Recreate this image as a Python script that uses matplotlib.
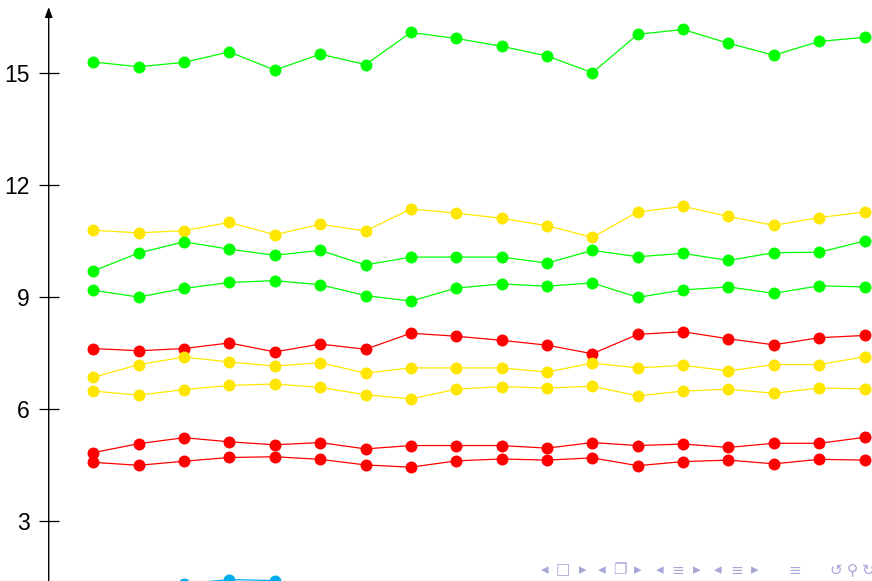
import numpy as np
import matplotlib.pyplot as plt

# values (18 samples per series)
x = np.arange(18)

green_top = [15.30, 15.17, 15.29, 15.57, 15.08, 15.51, 15.23, 16.09, 15.93, 15.72,
             15.46, 15.01, 16.04, 16.17, 15.80, 15.48, 15.85, 15.96]
yellow_top = [10.79, 10.72, 10.78, 11.00, 10.67, 10.95, 10.77, 11.36, 11.25, 11.11,
              10.91, 10.60, 11.28, 11.43, 11.16, 10.92, 11.13, 11.28]
green_mid = [9.70, 10.18, 10.48, 10.28, 10.12, 10.25, 9.86, 10.07, 10.07, 10.07,
             9.91, 10.25, 10.08, 10.17, 9.98, 10.19, 10.20, 10.50]
green_low = [9.18, 9.00, 9.23, 9.39, 9.44, 9.33, 9.04, 8.89, 9.24, 9.35,
             9.29, 9.38, 8.99, 9.19, 9.27, 9.10, 9.30, 9.27]
red_top = [7.62, 7.56, 7.62, 7.77, 7.53, 7.74, 7.60, 8.03, 7.95, 7.84,
           7.71, 7.48, 8.00, 8.07, 7.88, 7.72, 7.91, 7.97]
yellow_mid = [6.85, 7.19, 7.39, 7.26, 7.15, 7.24, 6.96, 7.10, 7.10, 7.10,
              6.99, 7.23, 7.10, 7.17, 7.02, 7.19, 7.19, 7.40]
yellow_low = [6.48, 6.37, 6.52, 6.63, 6.67, 6.58, 6.38, 6.27, 6.53, 6.60,
              6.56, 6.61, 6.35, 6.48, 6.53, 6.42, 6.56, 6.54]
red_mid = [4.83, 5.07, 5.23, 5.12, 5.04, 5.10, 4.93, 5.02, 5.02, 5.02,
           4.95, 5.10, 5.02, 5.06, 4.97, 5.08, 5.08, 5.24]
red_low = [4.57, 4.49, 4.60, 4.70, 4.72, 4.65, 4.50, 4.44, 4.61, 4.66,
           4.63, 4.69, 4.48, 4.59, 4.63, 4.53, 4.65, 4.63]
# only a few cyan points are visible at the bottom edge
cyan_x = [2, 3, 4]
cyan_vals = [1.31, 1.43, 1.40]

yticks = [3, 6, 9, 12, 15]

GREEN = "#00ff00"
YELLOW = "#ffe600"
RED = "#ff0000"
CYAN = "#00aeef"

series = [
    (green_top, GREEN), (yellow_top, YELLOW), (green_mid, GREEN),
    (green_low, GREEN), (red_top, RED), (yellow_mid, YELLOW),
    (yellow_low, YELLOW), (red_mid, RED), (red_low, RED),
]

plt.rcParams["font.family"] = ["Liberation Sans", "DejaVu Sans"]

fig = plt.figure(figsize=(8.72, 5.81), dpi=100)
ax = fig.add_axes([48.7 / 872, 0.0, 1 - 48.7 / 872, 1.0])

for vals, col in series:
    ax.plot(x, vals, color=col, lw=0.9, marker="o", markersize=8.6,
            markeredgewidth=0)
ax.plot(cyan_x, cyan_vals, color=CYAN, lw=0.9, marker="o", markersize=8.6,
        markeredgewidth=0)

ax.set_xlim(-0.983, 17.163)
ax.set_ylim(1.39, 16.96)
ax.set_xticks([])
ax.set_yticks(yticks)
ax.set_yticklabels([str(t) for t in yticks], fontsize=16.5)
ax.tick_params(axis="y", direction="inout", length=14, width=0.9, pad=6.5)
for s in ["top", "right", "bottom", "left"]:
    ax.spines[s].set_visible(False)

# y axis with arrow head
ax.annotate("", xy=(0, 1 - 7 / 581), xytext=(0, -0.01),
            xycoords="axes fraction", textcoords="axes fraction",
            arrowprops=dict(arrowstyle="-|>,head_length=0.6,head_width=0.22",
                            color="black", lw=1.0, shrinkA=0, shrinkB=0),
            annotation_clip=False)

# beamer navigation symbols
nav_color = "#a6a6d9"
nav = [(545, "◂"), (563, "□"), (583, "▸"), (602, "◂"), (620, "❐"), (638, "▸"),
       (660, "◂"), (678, "≡"), (697, "▸"), (718, "◂"), (737, "≡"), (755, "▸"),
       (795, "≡"), (836, "↺"), (852, "⚲"), (868, "↻")]
for px, ch in nav:
    fig.text(px / 872, 1 - 570 / 581, ch, color=nav_color, fontsize=11,
             ha="center", va="center", family=["DejaVu Sans"])

fig.savefig("out.png", dpi=100)
